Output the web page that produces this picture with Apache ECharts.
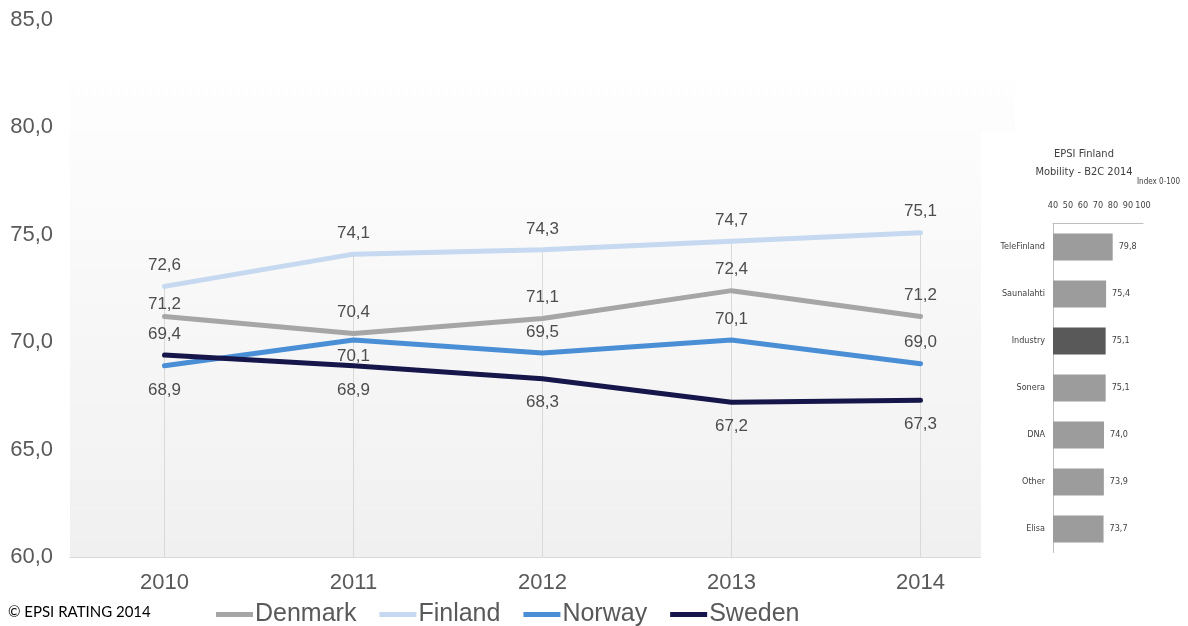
<!DOCTYPE html>
<html>
<head>
<meta charset="utf-8">
<script src="https://cdn.jsdelivr.net/npm/echarts@6/dist/echarts.min.js"></script>
<style>
  html, body { margin: 0; padding: 0; background: #ffffff; }
  #chart { width: 1188px; height: 626px; }
</style>
</head>
<body>
<div id="chart"></div>
<script>
// Nordic EPSI index by country
const years = ['2010', '2011', '2012', '2013', '2014'];
const denmark = [71.2, 70.4, 71.1, 72.4, 71.2];
const finland = [72.6, 74.1, 74.3, 74.7, 75.1];
const norway  = [68.9, 70.1, 69.5, 70.1, 69.0];
const sweden  = [69.4, 68.9, 68.3, 67.2, 67.3];
const yTicks = [60, 65, 70, 75, 80, 85];

// Finnish mobile operators, 2014
const operators = ['TeleFinland', 'Saunalahti', 'Industry', 'Sonera', 'DNA', 'Other', 'Elisa'];
const operatorScores = [79.8, 75.4, 75.1, 75.1, 74.0, 73.9, 73.7];

// where each value label sits relative to its point: [position, distance]
const denmarkLabels = [['top', 3], ['top', 12], ['top', 12], ['top', 12], ['top', 12]];
const finlandLabels = [['top', 12], ['top', 12], ['top', 12], ['top', 12], ['top', 12]];
const norwayLabels  = [['bottom', 15], ['bottom', 7], ['top', 12], ['top', 12], ['top', 12]];
const swedenLabels  = [['top', 12], ['bottom', 15], ['bottom', 15], ['bottom', 15], ['bottom', 15]];

const comma = v => Number(v).toFixed(1).replace('.', ',');
const FONT = 'Liberation Sans, Arial, sans-serif';
const NARROW = 'Liberation Sans Narrow, DejaVu Sans Condensed, Arial Narrow, sans-serif';

function withLabels(values, placement) {
  return values.map((v, i) => ({
    value: v,
    label: { position: placement[i][0], distance: placement[i][1] }
  }));
}

function lineSeries(name, values, placement, color) {
  return {
    name: name,
    type: 'line',
    data: withLabels(values, placement),
    symbol: 'circle',
    symbolSize: 1,
    showSymbol: true,
    z: 5,
    lineStyle: { color: color, width: 5, cap: 'round', join: 'round' },
    itemStyle: { color: color },
    label: {
      show: true,
      color: '#4d4d4d',
      fontFamily: FONT,
      fontSize: 17,
      formatter: p => comma(p.value)
    }
  };
}

// drop lines from the highest value in each year down to the axis floor
const tops = years.map((_, i) => Math.max(denmark[i], finland[i], norway[i], sweden[i]));
const dropLines = tops.map((v, i) => [
  { coord: [i, v] },
  { coord: [i, yTicks[0]] }
]);

const chart = echarts.init(document.getElementById('chart'));

chart.setOption({
  animation: false,
  backgroundColor: '#ffffff',
  title: [
    {
      text: 'EPSI Finland\nMobility - B2C 2014',
      left: 1084,
      top: 145,
      padding: 0,
      z: 70,
      textAlign: 'center',
      textStyle: { fontFamily: NARROW, fontSize: 11, fontWeight: 'normal', color: '#404040', lineHeight: 18 }
    },
    {
      text: 'Index 0-100',
      left: 1137,
      top: 178,
      padding: 0,
      z: 70,
      textStyle: { fontFamily: NARROW, fontSize: 8, fontWeight: 'normal', color: '#404040' }
    }
  ],
  graphic: [
    {
      type: 'rect',
      z: -10,
      silent: true,
      shape: { x: 70, y: 80, width: 945, height: 477 },
      style: {
        fill: new echarts.graphic.LinearGradient(0, 0, 0, 1, [
          { offset: 0, color: '#fefefe' },
          { offset: 1, color: '#f0f0f0' }
        ])
      }
    },
    {
      type: 'rect',
      z: 50,
      silent: true,
      shape: { x: 981, y: 132, width: 207, height: 430 },
      style: { fill: '#ffffff' }
    },
    {
      type: 'text',
      left: 8,
      top: 605,
      silent: true,
      style: { text: '\u00a9 EPSI RATING 2014', fontFamily: 'Lato, sans-serif', fontSize: 15, fill: '#000000' }
    }
  ],
  legend: {
    data: ['Denmark', 'Finland', 'Norway', 'Sweden'],
    left: 216,
    top: 602,
    icon: 'rect',
    itemWidth: 37,
    itemHeight: 5,
    itemGap: 23,
    padding: 0,
    textStyle: { fontFamily: FONT, fontSize: 25, color: '#595959', padding: [0, 0, 0, -3] }
  },
  grid: [
    { left: 70, right: 173, top: 20, bottom: 69 },
    { left: 1053, top: 223.5, width: 90, height: 329 }
  ],
  xAxis: [
    {
      gridIndex: 0,
      type: 'category',
      data: years,
      boundaryGap: true,
      axisLine: { lineStyle: { color: '#d9d9d9', width: 1 } },
      axisTick: { show: false },
      axisLabel: { fontFamily: FONT, fontSize: 22, color: '#595959', margin: 15 },
      splitLine: { show: false }
    },
    {
      gridIndex: 1,
      type: 'value',
      position: 'top',
      min: 40,
      max: 100,
      interval: 10,
      z: 60,
      axisLine: { show: true, lineStyle: { color: '#bfbfbf', width: 1 } },
      axisTick: { show: false },
      splitLine: { show: false },
      axisLabel: { fontFamily: NARROW, fontSize: 9, color: '#404040', margin: 13 }
    }
  ],
  yAxis: [
    {
      gridIndex: 0,
      type: 'value',
      min: yTicks[0],
      max: yTicks[yTicks.length - 1],
      interval: 5,
      axisLine: { show: false },
      axisTick: { show: false },
      splitLine: { show: false },
      axisLabel: { fontFamily: FONT, fontSize: 22, color: '#595959', margin: 17, formatter: v => comma(v) }
    },
    {
      gridIndex: 1,
      type: 'category',
      data: operators,
      inverse: true,
      z: 60,
      axisLine: { show: true, lineStyle: { color: '#bfbfbf', width: 1 } },
      axisTick: { show: false },
      axisLabel: { fontFamily: NARROW, fontSize: 9, color: '#404040', margin: 8 }
    }
  ],
  series: [
    {
      name: 'drops',
      type: 'line',
      data: tops,
      symbol: 'none',
      lineStyle: { opacity: 0 },
      z: 1,
      silent: true,
      markLine: {
        silent: true,
        symbol: ['none', 'none'],
        label: { show: false },
        lineStyle: { color: '#d9d9d9', width: 1, type: 'solid' },
        data: dropLines
      }
    },
    lineSeries('Denmark', denmark, denmarkLabels, '#a6a6a6'),
    lineSeries('Finland', finland, finlandLabels, '#c6d9f0'),
    lineSeries('Norway', norway, norwayLabels, '#4a8fd5'),
    lineSeries('Sweden', sweden, swedenLabels, '#16164a'),
    {
      name: 'operators',
      type: 'bar',
      xAxisIndex: 1,
      yAxisIndex: 1,
      z: 60,
      barWidth: 27,
      data: operatorScores.map((v, i) => ({
        value: v,
        itemStyle: { color: operators[i] === 'Industry' ? '#595959' : '#9c9c9c' }
      })),
      label: {
        show: true,
        position: 'right',
        distance: 6,
        fontFamily: NARROW,
        fontSize: 9,
        color: '#404040',
        formatter: p => comma(p.value)
      }
    }
  ]
});
</script>
</body>
</html>
